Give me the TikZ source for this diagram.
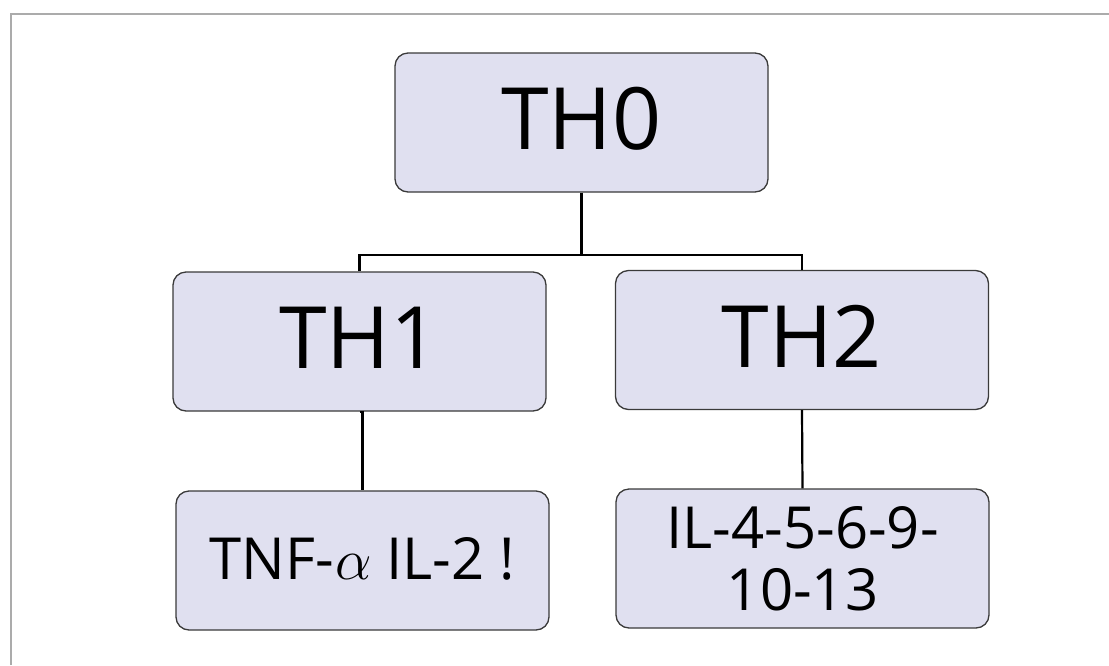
\documentclass[tikz,border=0pt]{standalone}
\usepackage{fix-cm}
\usepackage{fontspec}
\setmainfont{Open Sans}
\definecolor{boxfill}{HTML}{E0E0F0}
\definecolor{boxline}{HTML}{3A3A3A}
\definecolor{framegray}{HTML}{ABABAB}
\tikzset{
  cellbox/.style={draw=boxline, line width=1.3pt, fill=boxfill, rounded corners=13pt,
    minimum width=373pt, minimum height=139pt, inner sep=0pt, align=center},
  bigtext/.style={font=\fontsize{86}{86}\selectfont, text height=61pt, text depth=7pt},
  smalltext/.style={font=\fontsize{58}{58}\selectfont},
  link/.style={draw=black, line width=2.2pt}
}
\begin{document}
\begin{tikzpicture}[x=1pt,y=-1pt]
  \useasboundingbox (0,0) rectangle (1109,665);
  % outer frame: left and top edges
  \draw[framegray, line width=1.6pt] (11,665) -- (11,14) -- (1109,14);

  \node[cellbox, bigtext] (th0) at (581.5,122.5) {TH0};
  \node[cellbox, bigtext] (th1) at (359.5,341.5) {TH1};
  \node[cellbox, bigtext] (th2) at (802,340) {TH2};
  \node[cellbox, smalltext, text height=41pt, text depth=3pt] (cy1) at (362.5,560.5)
    {TNF-\kern1pt$\alpha$ IL-2 !};
  \node[cellbox, smalltext] (cy2) at (802.5,558.5) {IL-4-5-6-9-\\[4pt]10-13};

  \coordinate (bus) at (0,255);
  \draw[link] (th0.south) -- (th0.south |- bus);
  \draw[link] (th1.north) -- (th1.north |- bus) -- (th2.north |- bus) -- (th2.north);
  \draw[link] (th1.south) -- (th1.south -| cy1.north) -- (cy1.north);
  \draw[link] (th2.south) -- (cy2.north);
\end{tikzpicture}
\end{document}
